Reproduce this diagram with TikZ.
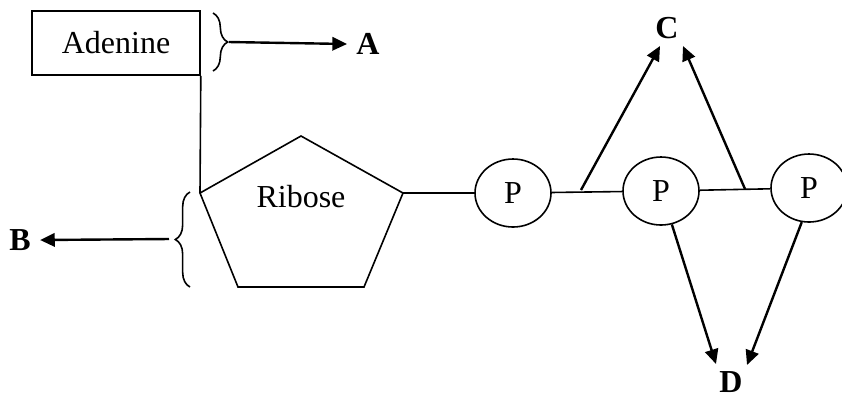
\documentclass[tikz,border=0pt]{standalone}
\usepackage{fontspec}
\setmainfont{Liberation Serif}
\usetikzlibrary{shapes.geometric,arrows.meta,decorations.pathreplacing}

\begin{document}
\begin{tikzpicture}[
    x=0.375pt, y=-0.375pt,
    thinline/.style={line width=0.6pt},
    pointer/.style={line width=0.9pt, -{Triangle[length=5.5pt, width=5pt]}},
    phos/.style={ellipse, draw, line width=0.6pt, minimum width=28.5pt, minimum height=25.5pt, inner sep=0pt, font=\large},
    base/.style={rectangle, draw, line width=0.6pt, minimum width=63pt, minimum height=24pt, font=\large},
    letter/.style={font=\large\bfseries},
    curly/.style={thinline, decorate, decoration={brace, amplitude=5.5pt}}
]
    \useasboundingbox (0,0) rectangle (842,396);

    \node[base] (adenine) at (116,43) {Adenine};

    % ribose ring
    \coordinate (rleft) at (200,193);
    \coordinate (rtop) at (301,136);
    \coordinate (rright) at (403,193);
    \coordinate (rbr) at (364,287);
    \coordinate (rbl) at (238,287);
    \draw[thinline] (rleft) -- (rtop) -- (rright) -- (rbr) -- (rbl) -- cycle;
    \node[font=\large] (ribose) at (301,197) {Ribose};

    \node[phos] (p1) at (513,193) {P};
    \node[phos] (p2) at (661,191) {P};
    \node[phos] (p3) at (809,188) {P};

    \draw[thinline] (adenine.south east) -- (rleft);
    \draw[thinline] (rright) -- (p1);
    \draw[thinline] (p1) -- (p2);
    \draw[thinline] (p2) -- (p3);

    % braces
    \coordinate (atop) at (213,13);
    \coordinate (abot) at (213,71);
    \draw[curly] (atop) -- (abot);
    \coordinate (btop) at (190,192);
    \coordinate (bbot) at (190,287);
    \draw[curly] (bbot) -- (btop);

    % labels
    \node[letter] (A) at (368,44) {A};
    \node[letter] (B) at (20,240) {B};
    \node[letter] (C) at (667,28) {C};
    \node[letter] (D) at (731,382) {D};

    \coordinate (atip) at (229,42);
    \coordinate (btip) at (169,239);
    \coordinate (c1) at (581,190);
    \coordinate (c2) at (745,189);

    \draw[pointer] (atip) -- (A.west);
    \draw[pointer] (btip) -- (B.east);
    \draw[pointer] (c1) -- (660,46);
    \draw[pointer] (c2) -- (683,46);
    \draw[pointer] (p2.-72) -- (716,364);
    \draw[pointer] (p3.-102) -- (747,365);
\end{tikzpicture}
\end{document}
